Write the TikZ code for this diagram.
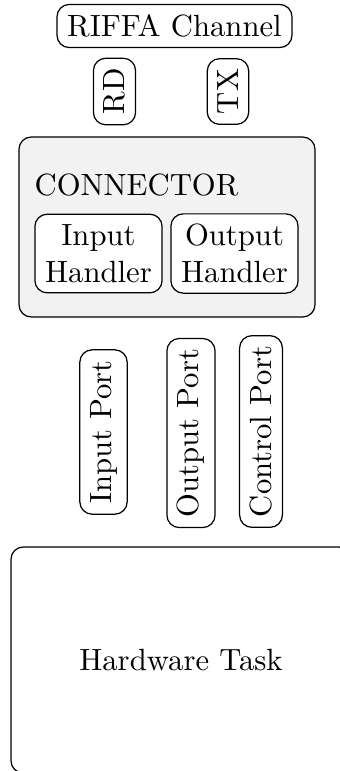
\documentclass[tikz,border=0pt]{standalone}
\begin{document}
\begin{tikzpicture}[x=0.3257pt,y=-0.3257pt,
  box/.style={draw,rounded corners,line width=0.4pt},
  vbox/.style={box,rotate=90},
  hbox/.style={box,align=center,fill=white}]
\useasboundingbox (0,0) rectangle (340,771);
\node[box] (riffa) at (174.5,26) {RIFFA Channel};
\node[vbox] (rd) at (114.5,91.5) {RD};
\node[vbox] (tx) at (228,91.5) {TX};
\draw[rounded corners,fill=black!5,line width=0.4pt] (19,137) rectangle (315,317);
\node[anchor=base west,inner sep=0pt] (conn) at (34,195) {CONNECTOR};
\node[hbox] (ih) at (98.5,253.5) {Input\\Handler};
\node[hbox] (oh) at (234.5,253.5) {Output\\Handler};
\node[vbox] (ip) at (103.5,432) {Input Port};
\node[vbox] (op) at (191,433) {Output Port};
\node[vbox] (cp) at (261,431.5) {Control Port};
\draw[rounded corners,line width=0.4pt] (11,547) rectangle (351,773);
\node (hw) at (181,660) {Hardware Task};
\end{tikzpicture}
\end{document}
